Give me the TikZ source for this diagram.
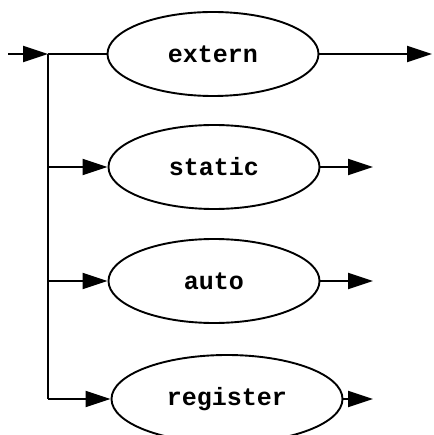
\documentclass[tikz,border=0pt]{standalone}
\usepackage{fontspec}
\setmonofont{Liberation Mono}
\usetikzlibrary{shapes.geometric,arrows.meta}

\begin{document}
\begin{tikzpicture}[x=1pt,y=-1pt,line width=1.9pt,
  kw/.style={ellipse,draw,inner sep=0pt,minimum width=211pt,minimum height=84pt,
    font=\ttfamily\bfseries\fontsize{25}{25}\selectfont},
  >={Triangle[length=25pt,width=16pt]}]
\useasboundingbox (0,0) rectangle (433,435);
\node[kw] (extern) at (213,54) {extern};
\node[kw] (static) at (214,167) {static};
\node[kw] (auto) at (214,281) {auto};
\node[kw,minimum width=231pt,minimum height=88pt] (register) at (227,399) {register};
\coordinate (start) at (8,54);
\coordinate (fork) at (48,54);
\coordinate (xout) at (432,54);
\coordinate (sout) at (373,167);
\coordinate (aout) at (373,281);
\coordinate (rout) at (373,399);
\draw[->] (start) -- (fork);
\draw (fork) -- (extern.west);
\draw (fork) -- (fork |- register);
\draw[->] (fork |- static) -- (static.west);
\draw[->] (fork |- auto) -- (auto.west);
\draw[->] (fork |- register) -- (register.west);
\draw[->] (extern.east) -- (xout);
\draw[->] (static.east) -- (sout);
\draw[->] (auto.east) -- (aout);
\draw[->] (register.east) -- (rout);
\end{tikzpicture}
\end{document}
